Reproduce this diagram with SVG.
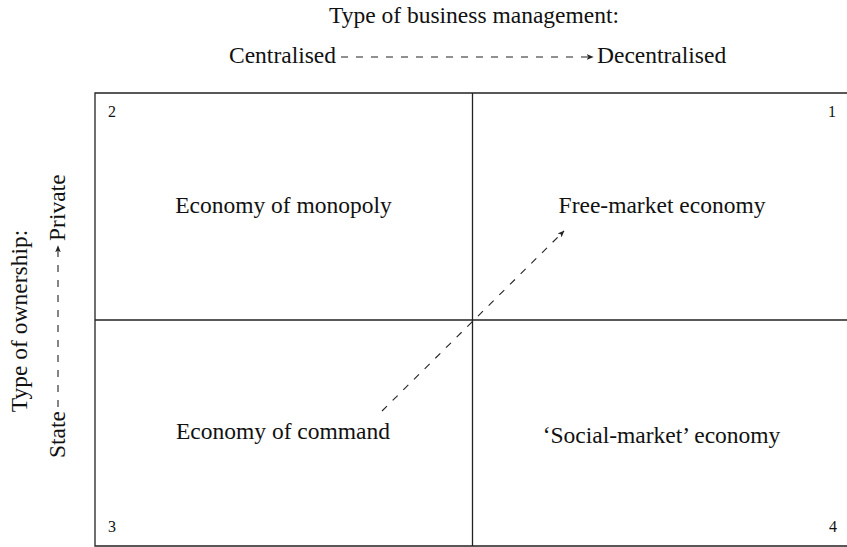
<svg xmlns="http://www.w3.org/2000/svg" width="847" height="547" viewBox="0 0 847 547">
  <style>
    .t { font-family: "Liberation Serif", "Times New Roman", serif; font-size: 23.5px; fill: #111; }
    .num { font-family: "Liberation Serif", "Times New Roman", serif; font-size: 16px; fill: #111; }
    .frame { fill: none; stroke: #222; stroke-width: 1.3; }
    .dash { fill: none; stroke: #222; stroke-width: 1.1; stroke-dasharray: 7 8; }
    .dash-diag { fill: none; stroke: #222; stroke-width: 1.1; stroke-dasharray: 7 8; }
  </style>
  <defs>
    <marker id="tip" viewBox="0 0 10 10" refX="9" refY="5" markerWidth="7" markerHeight="7" markerUnits="userSpaceOnUse" orient="auto">
      <path d="M0,1 L10,5 L0,9 L2.5,5 Z" fill="#222"/>
    </marker>
  </defs>
  <rect width="847" height="547" fill="#ffffff"/>

  <!-- axis captions -->
  <g id="axis-management">
    <text class="t" x="474" y="23" text-anchor="middle">Type of business management:</text>
    <text class="t" x="229" y="63">Centralised</text>
    <text class="t" x="597" y="63">Decentralised</text>
  </g>
  <g id="axis-ownership">
    <text class="t" transform="translate(27,321) rotate(-90)" text-anchor="middle">Type of ownership:</text>
    <text class="t" transform="translate(65,458) rotate(-90)">State</text>
    <text class="t" transform="translate(65,241) rotate(-90)">Private</text>
  </g>

  <!-- quadrant grid -->
  <g id="grid">
    <path class="frame" d="M850,93 H95 V546 H850"/>
    <line class="frame" x1="472.5" y1="93" x2="472.5" y2="546"/>
    <line class="frame" x1="95" y1="320" x2="850" y2="320"/>
  </g>

  <!-- quadrants -->
  <g id="q1">
    <text class="num" x="836" y="117" text-anchor="end">1</text>
    <text class="t" x="662" y="213" text-anchor="middle">Free-market economy</text>
  </g>
  <g id="q2">
    <text class="num" x="108" y="117">2</text>
    <text class="t" x="283.5" y="213" text-anchor="middle">Economy of monopoly</text>
  </g>
  <g id="q3">
    <text class="num" x="108" y="532">3</text>
    <text class="t" x="283" y="439" text-anchor="middle">Economy of command</text>
  </g>
  <g id="q4">
    <text class="num" x="837" y="532" text-anchor="end">4</text>
    <text class="t" x="661.5" y="443" text-anchor="middle">‘Social-market’ economy</text>
  </g>

  <!-- connectors -->
  <g id="connectors">
    <line class="dash" x1="341" y1="57" x2="593" y2="57" marker-end="url(#tip)"/>
    <line class="dash" x1="58" y1="407" x2="58" y2="246" marker-end="url(#tip)"/>
    <line class="dash-diag" x1="382" y1="411" x2="564" y2="231" marker-end="url(#tip)"/>
  </g>
</svg>
